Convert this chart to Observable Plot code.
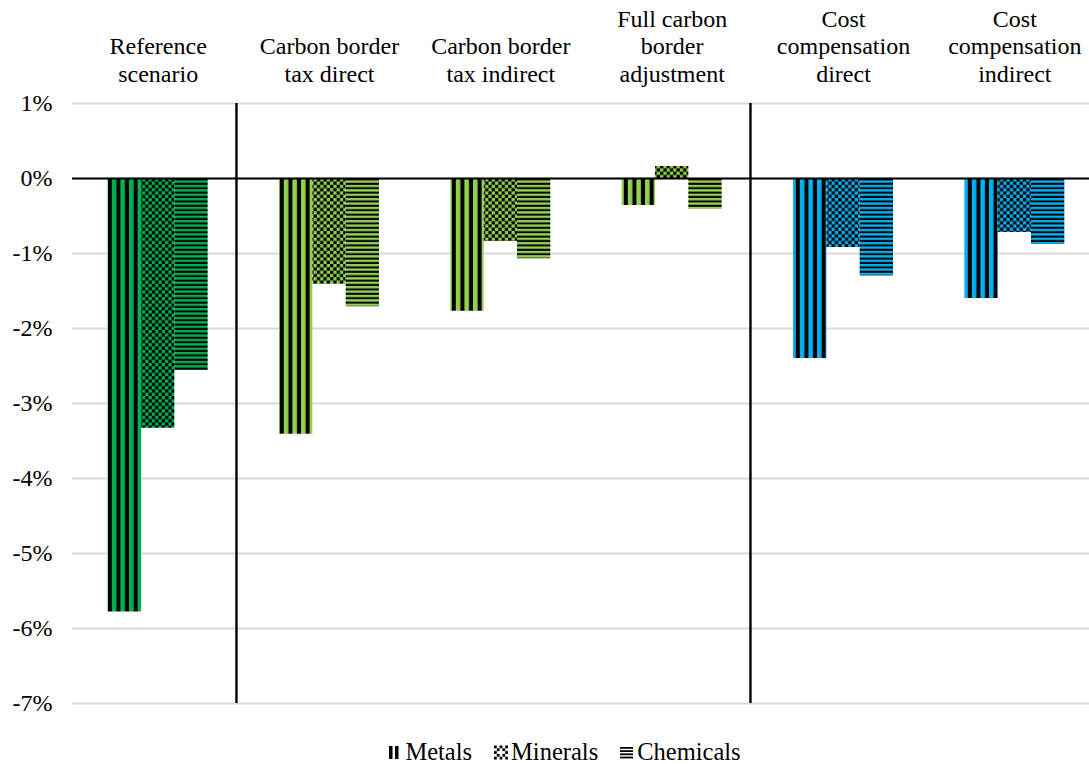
<!DOCTYPE html>
<html>
<head>
<meta charset="utf-8">
<script src="https://cdn.jsdelivr.net/npm/d3@7"></script>
<script src="https://cdn.jsdelivr.net/npm/@observablehq/plot@0.6"></script>
<style>
  html, body { margin: 0; padding: 0; background: #fff; overflow: hidden; }
  #chart svg { display: block; }
  #legend { font-family: "Liberation Serif", "Times New Roman", serif; font-size: 24.5px; line-height: 24px;
            display: flex; justify-content: center; gap: 22px; width: 1089px; color: #000; padding-left: 40px; box-sizing: border-box; }
  #legend .item { display: flex; align-items: center; gap: 3px; }
</style>
</head>
<body>
<div id="chart"></div>
<div id="legend"></div>
<script>
// ---- data ----
const categories = [
  "Reference\nscenario",
  "Carbon border\ntax direct",
  "Carbon border\ntax indirect",
  "Full carbon\nborder\nadjustment",
  "Cost\ncompensation\ndirect",
  "Cost\ncompensation\nindirect"
];
const scenarioType = ["reference", "border", "border", "border", "compensation", "compensation"];
const series = ["Metals", "Minerals", "Chemicals"];
const metals    = [-5.78, -3.41, -1.77, -0.36, -2.40, -1.60];
const minerals  = [-3.33, -1.41, -0.84,  0.16, -0.92, -0.72];
const chemicals = [-2.56, -1.71, -1.07, -0.41, -1.30, -0.88];
const yTicks = [1, 0, -1, -2, -3, -4, -5, -6, -7];
// separators placed after these groups
const separatorsAfter = ["Reference\nscenario", "Full carbon\nborder\nadjustment"];

// ---- styles ----
const typeColor = {reference: "#00b050", border: "#92d050", compensation: "#00b0f0"};
const patternKind = {Metals: "v", Minerals: "c", Chemicals: "h"};
const barWidth = 0.1945; // in group units
const sepShift = -0.043;

const valuesBySeries = {Metals: metals, Minerals: minerals, Chemicals: chemicals};
const rows = [];
categories.forEach((c, ci) => {
  series.forEach((s, si) => {
    rows.push({cat: c, ci, series: s, si, value: valuesBySeries[s][ci], type: scenarioType[ci]});
  });
});

const font = '"Liberation Serif", "Times New Roman", serif';

const plot = Plot.plot({
  width: 1089,
  height: 740,
  marginTop: 103,
  marginBottom: 37,
  marginLeft: 72,
  marginRight: 0,
  style: {fontFamily: font, fontSize: "24px", color: "#000", background: "#fff"},
  x: {domain: [-0.5, categories.length - 0.5], range: [72, 1100], axis: null},
  y: {domain: [-7, 1], axis: null},
  color: {type: "identity"},
  marks: [
    Plot.gridY(yTicks, {stroke: "#d9d9d9", strokeOpacity: 1, strokeWidth: 2}),
    Plot.axisY(yTicks, {label: null, tickSize: 0, tickPadding: 20, tickFormat: d => `${d}%`, fontSize: 24, fontFamily: font, fontVariant: "normal", fill: "#000"}),
    Plot.rectY(rows, {
      x1: d => d.ci + (d.si - 1.5) * barWidth,
      x2: d => d.ci + (d.si - 0.5) * barWidth,
      y1: 0,
      y2: "value",
      fill: d => `url(#p-${d.type}-${patternKind[d.series]})`
    }),
    Plot.ruleY([0], {stroke: "#000", strokeWidth: 2}),
    Plot.ruleX(separatorsAfter, {x: d => categories.indexOf(d) + 0.5 + sepShift, y1: 1, y2: -7, stroke: "#000", strokeWidth: 2.4}),
    Plot.text(categories, {x: (d, i) => i, frameAnchor: "top", text: d => d, lineAnchor: "bottom", lineHeight: 1.13, dy: -22, fontSize: 24, fontFamily: font, fill: "#000"})
  ]
});

// ---- patterns ----
const NS = "http://www.w3.org/2000/svg";
function el(name, attrs) { const e = document.createElementNS(NS, name); for (const k in attrs) e.setAttribute(k, attrs[k]); return e; }
function makePattern(id, color, kind) {
  let p;
  if (kind === "v") {
    p = el("pattern", {id, patternUnits: "userSpaceOnUse", width: 8.6, height: 10});
    p.appendChild(el("rect", {width: 8.6, height: 10, fill: color}));
    p.appendChild(el("rect", {x: 4.6, width: 4, height: 10, fill: "#000"}));
  } else if (kind === "c") {
    p = el("pattern", {id, patternUnits: "userSpaceOnUse", width: 6.6, height: 6.6});
    p.appendChild(el("rect", {width: 6.6, height: 6.6, fill: color}));
    p.appendChild(el("rect", {width: 3.3, height: 3.3, fill: "#000"}));
    p.appendChild(el("rect", {x: 3.3, y: 3.3, width: 3.3, height: 3.3, fill: "#000"}));
  } else {
    p = el("pattern", {id, patternUnits: "userSpaceOnUse", width: 10, height: 4.4});
    p.appendChild(el("rect", {width: 10, height: 4.4, fill: color}));
    p.appendChild(el("rect", {y: 2.4, width: 10, height: 2, fill: "#000"}));
  }
  return p;
}
const defs = el("defs", {});
for (const t in typeColor) for (const s of series) defs.appendChild(makePattern(`p-${t}-${patternKind[s]}`, typeColor[t], patternKind[s]));
plot.insertBefore(defs, plot.firstChild);
document.getElementById("chart").appendChild(plot);

// ---- legend ----
const legend = document.getElementById("legend");
const swatchDraw = {
  v: svg => { svg.appendChild(el("rect", {x: 1, y: 1, width: 3.5, height: 13, fill: "#000"})); svg.appendChild(el("rect", {x: 7, y: 1, width: 3.5, height: 13, fill: "#000"})); },
  c: svg => { for (let r = 0; r < 5; r++) for (let c = 0; c < 5; c++) if ((r + c) % 2 === 0 && !(r===2&&c===2)) svg.appendChild(el("rect", {x: c * 2.8, y: r * 2.8 + 0.5, width: 2.8, height: 2.8, fill: "#000"})); },
  h: svg => { for (let r = 0; r < 4; r++) svg.appendChild(el("rect", {x: 0, y: 2 + r * 3.2, width: 13, height: 1.8, fill: "#000"})); }
};
for (const s of series) {
  const item = document.createElement("div");
  item.className = "item";
  const sw = el("svg", {width: 14, height: 15});
  swatchDraw[patternKind[s]](sw);
  item.appendChild(sw);
  const span = document.createElement("span");
  span.textContent = s;
  item.appendChild(span);
  legend.appendChild(item);
}
</script>
</body>
</html>
